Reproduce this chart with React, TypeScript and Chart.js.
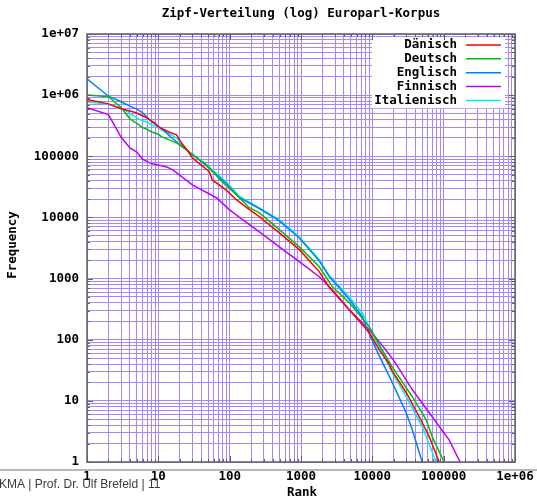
import React, { useEffect, useRef } from "react";
import { Chart, registerables } from "chart.js";

Chart.register(...registerables);

// ---- texts ----
const TITLE = "Zipf-Verteilung (log) Europarl-Korpus";
const X_TITLE = "Rank";
const Y_TITLE = "Frequency";
const FOOTER = "KMA | Prof. Dr. Ulf Brefeld | 11";

// ---- series ----
const seriesNames = ["Dänisch", "Deutsch", "Englisch", "Finnisch", "Italienisch"];
const seriesColors = ["#ff0000", "#00c000", "#0080ff", "#c000ff", "#00eeee"];

const ranksDa = [1, 2, 3, 4, 5, 6, 7, 8, 9, 10, 14, 18, 21, 27, 30, 52, 57, 90, 124, 189, 261, 497, 947, 1800, 2490, 4740, 9030, 12470, 17200, 19000, 29800, 45400, 62700, 86500];
const freqDa = [850000, 720000, 600000, 550000, 510000, 460000, 420000, 380000, 350000, 305000, 250000, 225000, 166000, 114000, 94000, 56000, 41000, 28000, 19500, 13400, 10300, 5600, 2970, 1300, 720, 310, 131, 69, 40, 31, 13.7, 5.5, 2.6, 1];

const ranksDe = [1, 2, 3, 4, 5, 6, 7, 8, 9, 10, 11, 18, 27, 47, 79, 124, 189, 261, 497, 947, 1800, 2740, 4740, 9030, 12470, 15600, 19000, 36200, 56900, 69000, 101600];
const freqDe = [1010000, 940000, 630000, 410000, 345000, 295000, 275000, 250000, 240000, 230000, 210000, 166000, 118000, 73000, 38000, 23500, 14400, 11900, 6300, 3300, 1560, 740, 404, 164, 83, 53, 36, 11.8, 4.9, 2.6, 1];

const ranksEn = [1, 2, 3, 4, 5, 6, 7, 8, 10, 12, 15, 25, 47, 90, 137, 261, 497, 947, 1800, 2490, 4740, 7210, 9030, 12470, 19000, 29800, 36200, 50000];
const freqEn = [1850000, 960000, 780000, 660000, 590000, 520000, 430000, 370000, 310000, 265000, 205000, 128000, 70000, 36000, 21000, 14000, 8800, 4600, 1950, 1080, 460, 240, 125, 55, 20, 6.4, 3.4, 1];

const ranksFi = [1, 2, 3, 4, 5, 6, 7, 8, 10, 13, 16, 30, 65, 99, 137, 261, 497, 947, 1800, 2740, 4740, 9030, 12470, 17200, 21600, 36200, 69000, 119000, 170000];
const freqFi = [620000, 480000, 206000, 137000, 117000, 90000, 82000, 76000, 72000, 67000, 60000, 34000, 21000, 13400, 10000, 5800, 3300, 1890, 1070, 659, 310, 146, 93, 58, 40, 15.3, 5.5, 2.3, 1];

const ranksIt = [1, 2, 3, 4, 5, 6, 7, 8, 10, 11, 18, 27, 47, 90, 137, 261, 497, 947, 1800, 2490, 4740, 7210, 9030, 12470, 19000, 29800, 50000, 78500];
const freqIt = [790000, 700000, 620000, 510000, 425000, 380000, 360000, 330000, 300000, 270000, 200000, 114000, 73000, 38000, 22000, 14200, 9200, 4800, 2040, 1110, 506, 277, 160, 77, 29, 11.8, 3.8, 1];

const seriesRanks = [ranksDa, ranksDe, ranksEn, ranksFi, ranksIt];
const seriesFreqs = [freqDa, freqDe, freqEn, freqFi, freqIt];

// ---- axes ----
const xMajorValues = [1, 10, 100, 1000, 10000, 100000, 1000000];
const xMajorLabels = ["1", "10", "100", "1000", "10000", "100000", "1e+06"];
const yMajorValues = [1, 10, 100, 1000, 10000, 100000, 1000000, 10000000];
const yMajorLabels = ["1", "10", "100", "1000", "10000", "100000", "1e+06", "1e+07"];

function withMinors(majors: number[]): number[] {
  const out: number[] = [];
  for (let i = 0; i < majors.length - 1; i++) {
    for (let m = 1; m <= 9; m++) out.push(majors[i] * m);
  }
  out.push(majors[majors.length - 1]);
  return out;
}
const xAllTicks = withMinors(xMajorValues);
const yAllTicks = withMinors(yMajorValues);

const MONO = '"DejaVu Sans Mono", "Liberation Mono", monospace';
const FONT = `bold 12.5px ${MONO}`;
const GRID = "#a486ff";
const FRAME = "#606060";

const decor = {
  id: "decor",
  beforeDraw(chart: any) {
    const ctx = chart.ctx;
    ctx.save();
    ctx.fillStyle = "#ffffff";
    ctx.fillRect(0, 0, chart.width, chart.height);
    ctx.restore();
  },
  afterDatasetsDraw(chart: any) {
    const ctx = chart.ctx;
    const a = chart.chartArea;
    const sx = chart.scales.x;
    const sy = chart.scales.y;
    ctx.save();
    // legend (opaque key)
    const boxL = a.right - 143;
    const boxR = a.right - 10;
    const boxT = a.top + 3;
    const rowH = 13.85;
    ctx.fillStyle = "#ffffff";
    ctx.fillRect(boxL, boxT, boxR - boxL, rowH * 5 + 2);
    ctx.font = FONT;
    ctx.textAlign = "right";
    ctx.textBaseline = "middle";
    seriesNames.forEach((n, i) => {
      const y = a.top + 11 + i * rowH;
      ctx.fillStyle = "#000";
      ctx.fillText(n, a.right - 58, y);
      ctx.strokeStyle = seriesColors[i];
      ctx.lineWidth = 1.5;
      ctx.beginPath();
      ctx.moveTo(a.right - 49, y);
      ctx.lineTo(a.right - 14, y);
      ctx.stroke();
    });
    // tick marks (mirrored, inward)
    ctx.strokeStyle = FRAME;
    ctx.lineWidth = 1;
    ctx.beginPath();
    xAllTicks.forEach((v) => {
      const px = Math.round(sx.getPixelForValue(v)) + 0.5;
      const len = xMajorValues.includes(v) ? 6 : 3;
      ctx.moveTo(px, a.bottom);
      ctx.lineTo(px, a.bottom - len);
      ctx.moveTo(px, a.top);
      ctx.lineTo(px, a.top + len);
    });
    yAllTicks.forEach((v) => {
      const py = Math.round(sy.getPixelForValue(v)) + 0.5;
      const len = yMajorValues.includes(v) ? 6 : 3;
      ctx.moveTo(a.left, py);
      ctx.lineTo(a.left + len, py);
      ctx.moveTo(a.right, py);
      ctx.lineTo(a.right - len, py);
    });
    ctx.stroke();
    // frame
    ctx.strokeStyle = FRAME;
    ctx.lineWidth = 1.5;
    ctx.strokeRect(a.left, a.top, a.right - a.left, a.bottom - a.top);
    ctx.restore();
  },
  afterDraw(chart: any) {
    const ctx = chart.ctx;
    const a = chart.chartArea;
    const cx = (a.left + a.right) / 2;
    ctx.save();
    ctx.fillStyle = "#000";
    ctx.font = FONT;
    ctx.textAlign = "center";
    ctx.textBaseline = "middle";
    ctx.fillText(TITLE, cx, 14);
    ctx.fillText(X_TITLE, cx + 1, 493);
    ctx.save();
    ctx.translate(13, (a.top + a.bottom) / 2 - 3);
    ctx.rotate(-Math.PI / 2);
    ctx.fillText(Y_TITLE, 0, 0);
    ctx.restore();
    // slide separator and footer
    ctx.strokeStyle = "#a0a0a0";
    ctx.lineWidth = 1.5;
    ctx.beginPath();
    ctx.moveTo(0, 470);
    ctx.lineTo(chart.width, 470);
    ctx.stroke();
    ctx.fillStyle = "#3a3a3a";
    ctx.font = '12px "Liberation Sans", Arial, sans-serif';
    ctx.textAlign = "left";
    ctx.textBaseline = "alphabetic";
    ctx.fillText(FOOTER, -1, 488);
    ctx.restore();
  },
};

export default function App() {
  const ref = useRef<HTMLCanvasElement>(null);
  useEffect(() => {
    const canvas = ref.current;
    if (!canvas) return;
    const datasets = seriesNames.map((name, i) => ({
      label: name,
      data: seriesRanks[i].map((r, j) => ({ x: r, y: seriesFreqs[i][j] })),
      borderColor: seriesColors[i],
      backgroundColor: seriesColors[i],
      borderWidth: 1.5,
      pointRadius: 0,
      fill: false,
      tension: 0,
    }));
    const chart = new Chart(canvas, {
      type: "line",
      data: { datasets },
      plugins: [decor],
      options: {
        responsive: false,
        animation: false,
        devicePixelRatio: 1,
        layout: { padding: { top: 34, right: 22, left: 0, bottom: 0 } },
        plugins: {
          legend: { display: false },
          title: { display: false },
          tooltip: { enabled: false },
        },
        scales: {
          x: {
            type: "logarithmic",
            min: 1,
            max: 1000000,
            afterBuildTicks: (s: any) => {
              s.ticks = xAllTicks.map((v) => ({ value: v }));
            },
            afterFit: (s: any) => {
              s.height = 39;
              s.paddingLeft = 0;
              s.paddingRight = 0;
            },
            grid: { color: GRID, lineWidth: 1, drawTicks: false },
            border: { display: false },
            ticks: {
              autoSkip: false,
              maxRotation: 0,
              minRotation: 0,
              padding: 7,
              color: "#000",
              font: { family: MONO, size: 12.5, weight: "bold" },
              callback: (v: any) => {
                const i = xMajorValues.indexOf(Number(v));
                return i >= 0 ? xMajorLabels[i] : "";
              },
            },
          },
          y: {
            type: "logarithmic",
            min: 1,
            max: 10000000,
            afterBuildTicks: (s: any) => {
              s.ticks = yAllTicks.map((v) => ({ value: v }));
            },
            afterFit: (s: any) => {
              s.width = 87;
              s.paddingTop = 0;
              s.paddingBottom = 0;
            },
            grid: { color: GRID, lineWidth: 1, drawTicks: false },
            border: { display: false },
            ticks: {
              autoSkip: false,
              padding: 8,
              color: "#000",
              font: { family: MONO, size: 12.5, weight: "bold" },
              callback: (v: any) => {
                const i = yMajorValues.indexOf(Number(v));
                return i >= 0 ? yMajorLabels[i] : "";
              },
            },
          },
        },
      } as any,
    });
    return () => chart.destroy();
  }, []);
  return (
    <div style={{ position: "absolute", left: 0, top: 0, width: 537, height: 501, background: "#fff" }}>
      <canvas ref={ref} width={537} height={501} style={{ display: "block", width: 537, height: 501 }} />
    </div>
  );
}
